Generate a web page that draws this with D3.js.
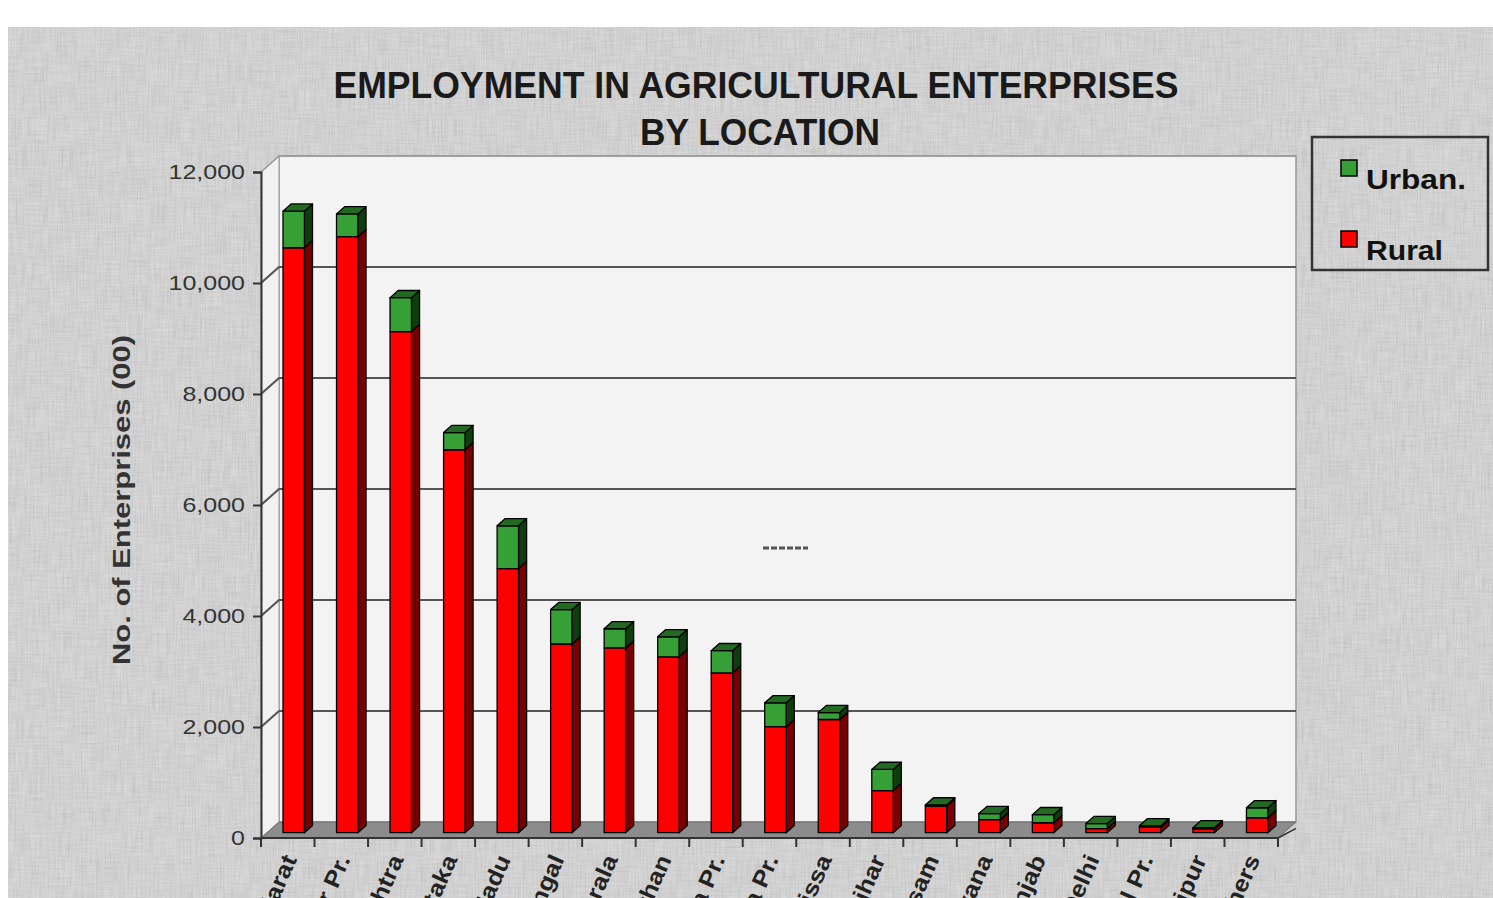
<!DOCTYPE html>
<html>
<head>
<meta charset="utf-8">
<script src="https://cdn.jsdelivr.net/npm/d3@7"></script>
<style>
  html, body { margin: 0; padding: 0; background: #fff; }
  svg { display: block; }
  text { font-family: "Liberation Sans", Arial, sans-serif; }
</style>
</head>
<body>
<svg id="chart" width="1493" height="898"></svg>
<script>
// data (hundreds of enterprises)
const states = ["Gujarat", "Uttar Pr.", "Maharashtra", "Karnataka", "Tamil Nadu", "West Bengal",
  "Kerala", "Rajasthan", "Andhra Pr.", "Madhya Pr.", "Orissa", "Bihar", "Assam", "Haryana",
  "Punjab", "Delhi", "Himachal Pr.", "Manipur", "Others"];
const rural = [10540, 10740, 9030, 6900, 4760, 3400, 3330, 3170, 2880, 1910, 2040, 760, 480, 235, 180, 75, 100, 70, 270];
const urban = [660, 410, 610, 310, 770, 620, 345, 360, 400, 430, 125, 380, 20, 110, 145, 90, 25, 20, 180];
const series = ["Rural", "Urban."];
const yTicks = [0, 2000, 4000, 6000, 8000, 10000, 12000];

const width = 1493, height = 898;
const svg = d3.select("#chart");

// front plane of the 3D box, plus depth offset
const plotLeft = 261, plotRight = 1278, plotBottom = 838, plotTop = 172;
const depthX = 18, depthY = -16;
const barZ0 = 0.33, barZ1 = 0.78;   // bar front / back as a fraction of the depth

const colors = {
  Rural: { front: "#ff0000", side: "#780000", top: "#b00000" },
  "Urban.": { front: "#36a036", side: "#0e3e0e", top: "#226a22" }
};

const x = d3.scaleBand().domain(states).range([plotLeft, plotRight]);
const y = d3.scaleLinear().domain([0, 12000]).range([plotBottom, plotTop]);

// ---- background with a linen-like texture
const defs = svg.append("defs");
const f = defs.append("filter").attr("id", "linen").attr("x", 0).attr("y", 0).attr("width", "100%").attr("height", "100%");
f.append("feTurbulence").attr("type", "fractalNoise").attr("baseFrequency", "0.6 0.035").attr("numOctaves", 2).attr("seed", 4);
f.append("feColorMatrix").attr("type", "matrix").attr("values", "1 0 0 0 0  1 0 0 0 0  1 0 0 0 0  0 0 0 0 1");
const f2 = defs.append("filter").attr("id", "linen2").attr("x", 0).attr("y", 0).attr("width", "100%").attr("height", "100%");
f2.append("feTurbulence").attr("type", "fractalNoise").attr("baseFrequency", "0.04 0.7").attr("numOctaves", 2).attr("seed", 9);
f2.append("feColorMatrix").attr("type", "matrix").attr("values", "1 0 0 0 0  1 0 0 0 0  1 0 0 0 0  0 0 0 0 1");

svg.append("rect").attr("x", 8).attr("y", 27).attr("width", width - 8).attr("height", height - 27).attr("fill", "#d9d9d9");
svg.append("rect").attr("x", 8).attr("y", 27).attr("width", width - 8).attr("height", height - 27)
  .attr("filter", "url(#linen)").attr("opacity", 0.16);
svg.append("rect").attr("x", 8).attr("y", 27).attr("width", width - 8).attr("height", height - 27)
  .attr("filter", "url(#linen2)").attr("opacity", 0.1);

// ---- walls and floor
const p = (px, py) => px + "," + py;
const yTop = y(12000);

// back wall
svg.append("rect")
  .attr("x", plotLeft + depthX).attr("y", yTop + depthY)
  .attr("width", plotRight - plotLeft).attr("height", plotBottom - yTop)
  .attr("fill", "#f3f3f3").attr("stroke", "#9a9a9a").attr("stroke-width", 1.5);

// left wall
svg.append("polygon")
  .attr("points", [p(plotLeft, yTop), p(plotLeft + depthX, yTop + depthY), p(plotLeft + depthX, plotBottom + depthY), p(plotLeft, plotBottom)].join(" "))
  .attr("fill", "#f1f1f1").attr("stroke", "#9a9a9a").attr("stroke-width", 1);

// gridlines on both walls
const grid = svg.append("g");
yTicks.filter(v => v > 0).forEach(v => {
  grid.append("polyline")
    .attr("points", [p(plotLeft, y(v)), p(plotLeft + depthX, y(v) + depthY), p(plotRight + depthX, y(v) + depthY)].join(" "))
    .attr("fill", "none").attr("stroke", v === 12000 ? "#9a9a9a" : "#555").attr("stroke-width", v === 12000 ? 1.5 : 2.2);
});

// floor
svg.append("polygon")
  .attr("points", [p(plotLeft, plotBottom), p(plotLeft + depthX, plotBottom + depthY), p(plotRight + depthX, plotBottom + depthY), p(plotRight, plotBottom)].join(" "))
  .attr("fill", "#8c8c8c").attr("stroke", "#6a6a6a").attr("stroke-width", 1);

// stray dashed mark on the back wall
svg.append("line")
  .attr("x1", 763).attr("x2", 808).attr("y1", 548).attr("y2", 548)
  .attr("stroke", "#555").attr("stroke-width", 3).attr("stroke-dasharray", "6,2");

// ---- bars (stacked, 3D)
const stackData = states.map((s, i) => ({ state: s, Rural: rural[i], "Urban.": urban[i] }));
const stacked = d3.stack().keys(series)(stackData);

const bw = x.bandwidth() * 0.4;
const zx0 = depthX * barZ0, zy0 = depthY * barZ0;
const zx1 = depthX * (barZ1 - barZ0), zy1 = depthY * (barZ1 - barZ0);

const bars = svg.append("g").attr("stroke", "#000").attr("stroke-width", 1.3).attr("stroke-linejoin", "round");
states.forEach((s, i) => {
  const bx = x(s) + x.bandwidth() * 0.3 + zx0;
  const g = bars.append("g");
  stacked.forEach(layer => {
    const c = colors[layer.key];
    const d = layer[i];
    const y0 = y(d[0]) + zy0, y1 = y(d[1]) + zy0;
    g.append("polygon")
      .attr("points", [p(bx + bw, y1), p(bx + bw + zx1, y1 + zy1), p(bx + bw + zx1, y0 + zy1), p(bx + bw, y0)].join(" "))
      .attr("fill", c.side);
    g.append("rect")
      .attr("x", bx).attr("y", y1).attr("width", bw).attr("height", Math.max(0, y0 - y1))
      .attr("fill", c.front);
  });
  const topLayer = stacked[stacked.length - 1];
  const yt = y(topLayer[i][1]) + zy0;
  g.append("polygon")
    .attr("points", [p(bx, yt), p(bx + zx1, yt + zy1), p(bx + bw + zx1, yt + zy1), p(bx + bw, yt)].join(" "))
    .attr("fill", colors[topLayer.key].top);
});

// ---- axes
const yAxis = svg.append("g")
  .attr("transform", `translate(${plotLeft},0)`)
  .call(d3.axisLeft(y).tickValues(yTicks).tickFormat(d3.format(",")).tickSize(8).tickPadding(8));
yAxis.select(".domain").attr("stroke", "#333").attr("stroke-width", 2);
yAxis.selectAll(".tick line").attr("stroke", "#333").attr("stroke-width", 2);
yAxis.selectAll(".tick text")
  .attr("font-size", 20).attr("fill", "#333")
  .attr("font-family", "'Liberation Sans', Arial, sans-serif")
  .each(function () {
    const w = this.getComputedTextLength();
    d3.select(this).attr("textLength", w * 1.25).attr("lengthAdjust", "spacingAndGlyphs");
  });

const xAxis = svg.append("g").attr("transform", `translate(0,${plotBottom})`);
xAxis.append("line").attr("x1", plotLeft).attr("x2", plotRight).attr("stroke", "#333").attr("stroke-width", 2);
xAxis.append("line").attr("x1", plotRight).attr("y1", 0).attr("x2", plotRight + depthX).attr("y2", depthY * 0.6)
  .attr("stroke", "#333").attr("stroke-width", 1.5);
xAxis.selectAll(".xt")
  .data(states.map(s => x(s)).concat([plotRight]))
  .enter().append("line")
  .attr("x1", d => d).attr("x2", d => d).attr("y1", 0).attr("y2", 9)
  .attr("stroke", "#333").attr("stroke-width", 2);
// labels are long and run off the bottom edge, as in the original
xAxis.selectAll(".xl")
  .data(states)
  .enter().append("text")
  .attr("transform", d => `translate(${x(d) + x.bandwidth() / 2 + 2},18) rotate(-66)`)
  .attr("text-anchor", "end")
  .attr("dy", "0.35em")
  .attr("font-size", 23)
  .attr("font-weight", "bold")
  .attr("fill", "#222")
  .text(d => d)
  .each(function () {
    const w = this.getComputedTextLength();
    d3.select(this).attr("textLength", w * 1.12).attr("lengthAdjust", "spacingAndGlyphs");
  });

// ---- y axis title
svg.append("text")
  .attr("transform", "translate(130,500) rotate(-90)")
  .attr("text-anchor", "middle")
  .attr("font-size", 23).attr("font-weight", "bold").attr("fill", "#333")
  .attr("textLength", 330).attr("lengthAdjust", "spacingAndGlyphs")
  .text("No. of Enterprises (00)");

// ---- title
const title = svg.append("g")
  .attr("font-family", "'Liberation Sans Narrow', 'DejaVu Sans Condensed', Arial, sans-serif")
  .attr("font-weight", "bold").attr("font-size", 37).attr("fill", "#1a1a1a").attr("text-anchor", "middle");
title.append("text").attr("x", 756).attr("y", 98)
  .attr("textLength", 845).attr("lengthAdjust", "spacingAndGlyphs")
  .text("EMPLOYMENT IN AGRICULTURAL ENTERPRISES");
title.append("text").attr("x", 760).attr("y", 145)
  .attr("textLength", 240).attr("lengthAdjust", "spacingAndGlyphs")
  .text("BY LOCATION");

// ---- legend
const legend = svg.append("g");
legend.append("rect")
  .attr("x", 1312).attr("y", 137).attr("width", 176).attr("height", 133)
  .attr("fill", "none").attr("stroke", "#333").attr("stroke-width", 2.5);
const legendItems = [
  { key: "Urban.", y: 160, w: 100 },
  { key: "Rural", y: 231, w: 77 }
];
legendItems.forEach(it => {
  legend.append("rect")
    .attr("x", 1341).attr("y", it.y).attr("width", 16).attr("height", 16)
    .attr("fill", colors[it.key].front).attr("stroke", "#000").attr("stroke-width", 1.5);
  legend.append("text")
    .attr("x", 1366).attr("y", it.y + 29)
    .attr("font-size", 27).attr("font-weight", "bold").attr("fill", "#111")
    .attr("textLength", it.w).attr("lengthAdjust", "spacingAndGlyphs")
    .text(it.key);
});
</script>
</body>
</html>
